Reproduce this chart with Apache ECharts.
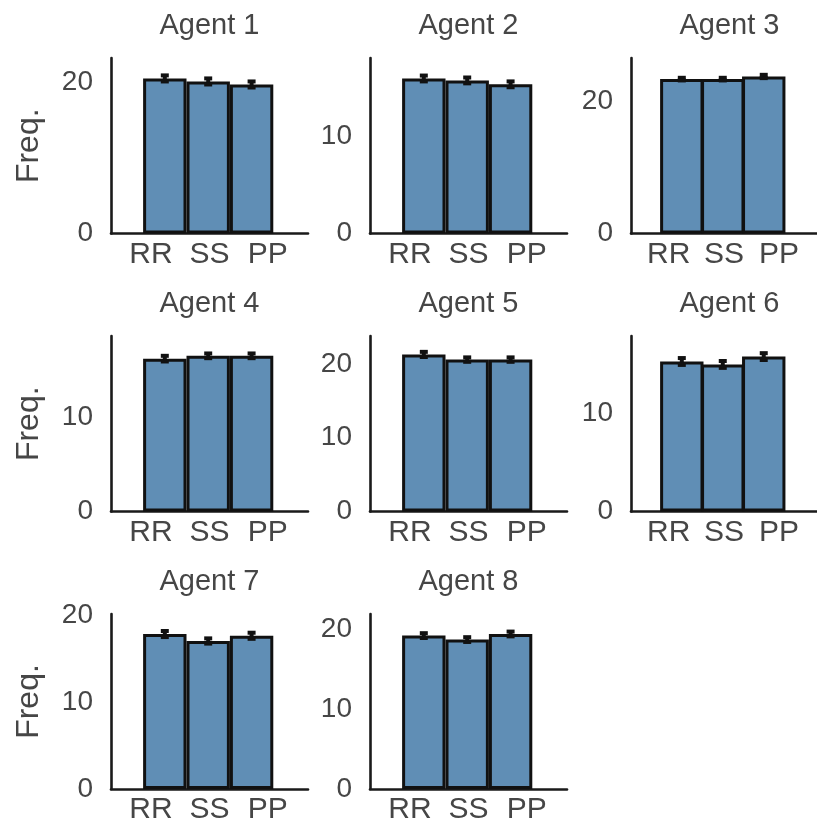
<!DOCTYPE html>
<html>
<head>
<meta charset="utf-8">
<script src="https://cdn.jsdelivr.net/npm/echarts@6/dist/echarts.min.js"></script>
<style>
html,body{margin:0;padding:0;background:#fff;}
#chart{width:817px;height:825px;}
</style>
</head>
<body>
<div id="chart"></div>
<script>
// ---- data ----
const categories = ['RR', 'SS', 'PP'];
const categoryTickPos = [-0.32, 1.03, 2.37];
const agentNames = ['Agent 1', 'Agent 2', 'Agent 3', 'Agent 4', 'Agent 5', 'Agent 6', 'Agent 7', 'Agent 8'];

const agent1 = [20.5, 20.1, 19.7];
const agent2 = [15.9, 15.7, 15.3];
const agent3 = [23.4, 23.4, 23.8];
const agent4 = [16.2, 16.5, 16.5];
const agent5 = [21.3, 20.6, 20.6];
const agent6 = [15.3, 15.0, 15.8];
const agent7 = [17.8, 17.0, 17.6];
const agent8 = [19.2, 18.7, 19.4];

const agent1Err = [0.4, 0.4, 0.4];
const agent2Err = [0.3, 0.3, 0.3];
const agent3Err = [0.2, 0.2, 0.25];
const agent4Err = [0.3, 0.25, 0.25];
const agent5Err = [0.35, 0.3, 0.3];
const agent6Err = [0.35, 0.35, 0.35];
const agent7Err = [0.35, 0.3, 0.35];
const agent8Err = [0.3, 0.3, 0.3];

const yMaxes = [23.2, 18.0, 26.6, 18.6, 23.8, 17.9, 20.1, 21.9];
const yTicks = [[0, 20], [0, 10], [0, 20], [0, 10], [0, 10, 20], [0, 10], [0, 10, 20], [0, 10, 20]];
const yLabel = 'Freq.';

const values = [agent1, agent2, agent3, agent4, agent5, agent6, agent7, agent8];
const errors = [agent1Err, agent2Err, agent3Err, agent4Err, agent5Err, agent6Err, agent7Err, agent8Err];

// ---- layout ----
const colLeft = [111, 370, 631];
const rowTop = [58, 336, 614];
const gridW = 197, gridH = 175.5;
const xMin = -1.24, xMax = 3.3;
const barPx = gridW / (xMax - xMin);
const textColor = '#464646';
const font = 'Liberation Sans, Arial, sans-serif';
const barColor = '#608eb5';

const grids = [], xAxes = [], yAxes = [], series = [], titles = [];
values.forEach((vals, i) => {
  const r = Math.floor(i / 3), c = i % 3;
  grids.push({left: colLeft[c], top: rowTop[r], width: gridW, height: gridH, containLabel: false});
  titles.push({
    text: agentNames[i], left: colLeft[c] + gridW / 2, top: rowTop[r] - 47,
    textAlign: 'center', padding: 0,
    textStyle: {fontFamily: font, fontSize: 29, fontWeight: 'normal', color: textColor}
  });
  xAxes.push({
    gridIndex: i, type: 'value', min: xMin, max: xMax,
    axisLine: {show: true, onZero: false, lineStyle: {color: '#1a1a1a', width: 2.6}},
    axisTick: {show: false}, splitLine: {show: false},
    axisLabel: {
      customValues: categoryTickPos, margin: 6,
      formatter: v => {
        const k = categoryTickPos.findIndex(p => Math.abs(p - v) < 1e-6);
        return k >= 0 ? categories[k] : '';
      },
      fontFamily: font, fontSize: 30, color: textColor
    }
  });
  yAxes.push({
    gridIndex: i, type: 'value', min: 0, max: yMaxes[i],
    name: c === 0 ? yLabel : '', nameLocation: 'middle', nameGap: 66,
    nameTextStyle: {fontFamily: font, fontSize: 32, color: textColor},
    axisLine: {show: true, onZero: false, lineStyle: {color: '#1a1a1a', width: 2.6}},
    axisTick: {show: false}, splitLine: {show: false},
    axisLabel: {customValues: yTicks[i], margin: 18, fontFamily: font, fontSize: 28, color: textColor}
  });
  series.push({
    type: 'bar', xAxisIndex: i, yAxisIndex: i, barWidth: barPx,
    data: vals.map((v, k) => [k, v]),
    itemStyle: {color: barColor, borderColor: '#111', borderWidth: 3},
    silent: true, animation: false
  });
  series.push({
    type: 'custom', xAxisIndex: i, yAxisIndex: i, z: 5,
    data: vals.map((v, k) => [k, v, errors[i][k]]),
    encode: {x: 0, y: 1},
    renderItem: (params, api) => {
      const x = api.value(0), v = api.value(1), e = api.value(2);
      const top = api.coord([x, v + e]);
      const bot = api.coord([x, v - e]);
      const cw = 4;
      const st = {stroke: '#111', lineWidth: 4};
      return {type: 'group', children: [
        {type: 'line', shape: {x1: top[0], y1: top[1], x2: bot[0], y2: bot[1]}, style: st},
        {type: 'line', shape: {x1: top[0] - cw, y1: top[1], x2: top[0] + cw, y2: top[1]}, style: st},
        {type: 'line', shape: {x1: bot[0] - cw, y1: bot[1], x2: bot[0] + cw, y2: bot[1]}, style: st}
      ]};
    },
    silent: true, animation: false
  });
});

const chart = echarts.init(document.getElementById('chart'), null, {renderer: 'canvas'});
chart.setOption({
  backgroundColor: '#ffffff',
  animation: false,
  title: titles,
  grid: grids,
  xAxis: xAxes,
  yAxis: yAxes,
  series: series
});
</script>
</body>
</html>
